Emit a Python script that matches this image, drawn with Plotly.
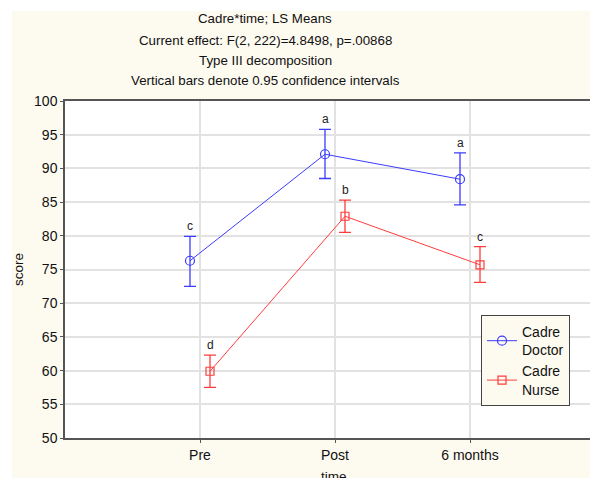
import plotly.graph_objects as go

categories = ["Pre", "Post", "6 months"]
doctor_mean = [76.3, 92.1, 88.4]
doctor_upper = [79.9, 95.8, 92.3]
doctor_lower = [72.5, 88.5, 84.6]
nurse_mean = [59.9, 82.9, 75.7]
nurse_upper = [62.3, 85.3, 78.4]
nurse_lower = [57.5, 80.5, 73.1]
doctor_letters = ["c", "a", "a"]
nurse_letters = ["d", "b", "c"]
title_lines = [
    "Cadre*time; LS Means",
    "Current effect: F(2, 222)=4.8498, p=.00868",
    "Type III decomposition",
    "Vertical bars denote 0.95 confidence intervals",
]

BLUE = "rgb(60,60,255)"
RED = "rgb(255,60,60)"
CREAM = "rgb(253,250,240)"
FONT = "Liberation Sans, Arial, sans-serif"

W, H = 590, 478
L, T, B = 65, 101, 438
plot_w = W - L
plot_h = B - T
unit = 135.0  # px per category step
off = 10.0 / unit

pos = [1, 2, 3]
xd = [p - off for p in pos]
xn = [p + off for p in pos]

fig = go.Figure()
fig.add_trace(go.Scatter(
    x=xd, y=doctor_mean, mode="lines+markers", name="Cadre<br>Doctor",
    line=dict(color=BLUE, width=1),
    marker=dict(symbol="circle-open", size=9, color=BLUE, line=dict(width=1.2)),
    error_y=dict(type="data", symmetric=False,
                 array=[u - m for u, m in zip(doctor_upper, doctor_mean)],
                 arrayminus=[m - l for m, l in zip(doctor_mean, doctor_lower)],
                 color=BLUE, thickness=1.3, width=6),
))
fig.add_trace(go.Scatter(
    x=xn, y=nurse_mean, mode="lines+markers", name="Cadre<br>Nurse",
    line=dict(color=RED, width=1),
    marker=dict(symbol="square-open", size=8, color=RED, line=dict(width=1.2)),
    error_y=dict(type="data", symmetric=False,
                 array=[u - m for u, m in zip(nurse_upper, nurse_mean)],
                 arrayminus=[m - l for m, l in zip(nurse_mean, nurse_lower)],
                 color=RED, thickness=1.3, width=6),
))

annotations = []
for x, y, t in zip(xd, doctor_upper, doctor_letters):
    annotations.append(dict(x=x, y=y, text=t, showarrow=False, xref="x", yref="y",
                            yanchor="bottom", yshift=1, font=dict(size=12, color="#222", family=FONT)))
for x, y, t in zip(xn, nurse_upper, nurse_letters):
    annotations.append(dict(x=x, y=y, text=t, showarrow=False, xref="x", yref="y",
                            yanchor="bottom", yshift=1, font=dict(size=12, color="#222", family=FONT)))

title_y = [18, 40, 61, 81]
for ty, txt in zip(title_y, title_lines):
    annotations.append(dict(x=(265 - L) / plot_w, y=(B - ty) / plot_h, xref="paper", yref="paper",
                            text=txt, showarrow=False, xanchor="center", yanchor="middle",
                            font=dict(size=13.3, color="#111", family=FONT)))
annotations.append(dict(x=(18 - L) / plot_w, y=(B - 270) / plot_h, xref="paper", yref="paper",
                        text="score", textangle=-90, showarrow=False, xanchor="center", yanchor="middle",
                        font=dict(size=13.5, color="#111", family=FONT)))
annotations.append(dict(x=(334 - L) / plot_w, y=(B - 477) / plot_h, xref="paper", yref="paper",
                        text="time", showarrow=False, xanchor="center", yanchor="middle",
                        font=dict(size=13.5, color="#111", family=FONT)))

shapes = [
    dict(type="rect", xref="paper", yref="paper", x0=-0.3, x1=(12 - L) / plot_w, y0=-0.5, y1=1.5,
         fillcolor="white", line=dict(width=0), layer="above"),
    dict(type="rect", xref="paper", yref="paper", x0=-0.3, x1=1.1, y0=(B - 11) / plot_h, y1=1.5,
         fillcolor="white", line=dict(width=0), layer="above"),
]

fig.update_layout(
    width=W, height=H, autosize=False,
    margin=dict(l=L, r=0, t=T, b=H - B, pad=0),
    paper_bgcolor=CREAM, plot_bgcolor="white",
    font=dict(family=FONT, size=14, color="#111"),
    showlegend=True,
    legend=dict(x=(481 - L) / plot_w, y=(B - 315) / plot_h, xanchor="left", yanchor="top",
                bgcolor=CREAM, bordercolor="#444", borderwidth=1,
                font=dict(size=14, family=FONT, color="#111"),
                tracegroupgap=0, itemwidth=30),
    annotations=annotations,
    shapes=shapes,
)
fig.update_xaxes(
    range=[0, plot_w / unit], tickmode="array", tickvals=pos, ticktext=categories,
    showgrid=True, gridcolor="#e2e2e2", gridwidth=1.5,
    showline=True, linecolor="#555", linewidth=1.5, mirror=True,
    ticks="outside", ticklen=3, tickcolor="#555", zeroline=False,
    tickfont=dict(size=14, family=FONT, color="#111"),
)
fig.update_yaxes(
    range=[50, 100], tickmode="array", tickvals=list(range(50, 101, 5)),
    showgrid=True, gridcolor="#e2e2e2", gridwidth=1.5,
    showline=True, linecolor="#555", linewidth=1.5,
    ticks="outside", ticklen=3, tickcolor="#555", zeroline=False,
    tickfont=dict(size=14, family=FONT, color="#111"),
)

fig.write_html("out.html", config={"displayModeBar": False},
               post_script="document.body.style.margin='0';document.body.style.overflow='hidden';")
